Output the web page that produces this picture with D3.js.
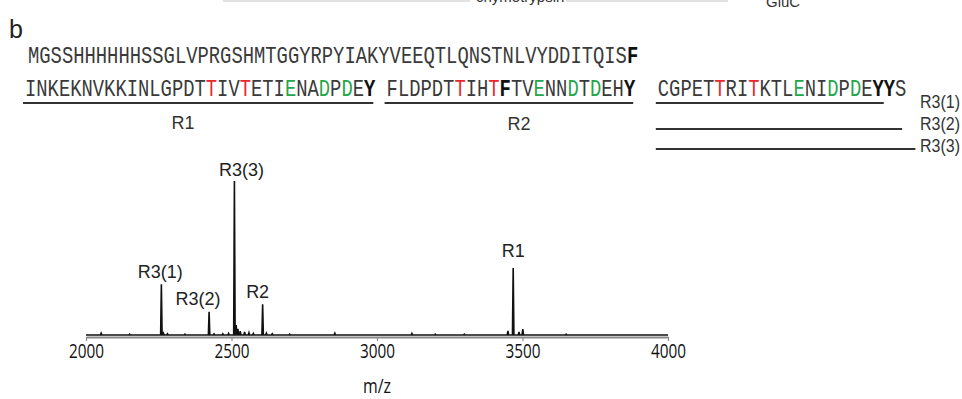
<!DOCTYPE html>
<html>
<head>
<meta charset="utf-8">
<script src="https://cdn.jsdelivr.net/npm/d3@7"></script>
<style>
    body { margin: 0; background: #fff; }
</style>
</head>
<body>
<div id="chart-area"></div>
<script>

// labelled peaks: m/z and relative intensity (%)
var peakNames = ["R3(1)", "R3(2)", "R3(3)", "R2", "R1"]
var peakMz = [2259, 2423, 2510, 2607, 3468]
var peakInt = [33, 15, 100, 20, 43.5]

// small unlabelled peaks along the baseline
var minorMz = [2052, 2150, 2266, 2280, 2340, 2440, 2470, 2490, 2516, 2522, 2530, 2545, 2560, 2575,
               2620, 2640, 2700, 2855, 3120, 3200, 3300, 3450, 3488, 3501, 3650]
var minorInt = [1.2, 0.5, 1.2, 0.8, 0.5, 0.7, 0.8, 1.0, 6.5, 4.0, 2.5, 2.0, 1.5, 1.0,
                1.2, 0.8, 0.5, 1.2, 1.0, 0.5, 0.5, 2.6, 2.0, 3.9, 0.5]

var xTicks = [2000, 2500, 3000, 3500, 4000]

// protein sequence, two rows
var seqLine1 = "MGSSHHHHHHSSGLVPRGSHMTGGYRPYIAKYVEEQTLQNSTNLVYDDITQISF"
var seqLine2 = "INKEKNVKKINLGPDTTIVTETIENADPDEY FLDPDTTIHTFTVENNDTDEHY  CGPETTRITKTLENIDPDEYYS"
var boldLine1 = [53]
var redLine2 = [16, 19, 38, 41, 61, 64]
var greenLine2 = [23, 26, 28, 45, 48, 50, 68, 71, 73]
var boldLine2 = [30, 42, 53, 75, 76]

// peptide regions (residue index range in row 2)
var regionNames = ["R1", "R2", "R3(1)", "R3(2)", "R3(3)"]
var regionStart = [0, 32, 56, 56, 56]
var regionEnd = [30, 53, 75, 76, 77]

var width = 962, height = 399

var svg = d3.select("#chart-area").append("svg")
    .attr("width", width)
    .attr("height", height)
    .style("font-family", "'Liberation Sans', Arial, sans-serif")

// panel letter
svg.append("text")
    .attr("x", 9).attr("y", 38)
    .attr("font-size", 25)
    .attr("fill", "#222")
    .text("b")

// remains of the panel above (cut off at top edge)
var topG = svg.append("g").attr("stroke", "#c4c4c4").attr("stroke-width", 1.2)
topG.append("line").attr("x1", 223).attr("x2", 470).attr("y1", 1).attr("y2", 1)
topG.append("line").attr("x1", 566).attr("x2", 728).attr("y1", 1).attr("y2", 1)
svg.append("text").attr("x", 476).attr("y", 2).attr("font-size", 15).attr("fill", "#333").text("chymotrypsin")
svg.append("text").attr("x", 766).attr("y", 7).attr("font-size", 15).attr("fill", "#333").text("GluC")

// ---- sequence ----
var pitch = 11.3
var sx = 0.785
var seqColor = "#3a3a3a", red = "#e8262b", green = "#22a64a"

function drawSeq(str, x0, yBase, reds, greens, bolds) {
    var xs = d3.scaleLinear().domain([0, str.length]).range([0, str.length * pitch / sx])
    var g = svg.append("g")
        .attr("transform", "translate(" + x0 + "," + yBase + ") scale(" + sx + ",1)")
    var t = g.append("text")
        .attr("font-family", "'Liberation Mono', 'Courier New', monospace")
        .attr("font-size", 24)
    str.split("").forEach(function (c, i) {
        if (c == " ") return
        var fill = seqColor
        if (reds.indexOf(i) >= 0) fill = red
        if (greens.indexOf(i) >= 0) fill = green
        t.append("tspan")
            .attr("x", xs(i))
            .attr("fill", bolds.indexOf(i) >= 0 ? "#111" : fill)
            .attr("font-weight", bolds.indexOf(i) >= 0 ? "bold" : "normal")
            .text(c)
    })
}

drawSeq(seqLine1, 28, 63, [], [], boldLine1)
drawSeq(seqLine2, 25, 96, redLine2, greenLine2, boldLine2)

// underlines for the regions
var xSeq = d3.scaleLinear().domain([0, seqLine2.length]).range([25, 25 + seqLine2.length * pitch])
var rowY = [103, 103, 103, 129, 149]
var tail = [-2, -2, 0, 7, 9]

regionNames.forEach(function (name, i) {
    svg.append("line")
        .attr("x1", xSeq(regionStart[i]) - 2)
        .attr("x2", xSeq(regionEnd[i] + 1) + tail[i])
        .attr("y1", rowY[i]).attr("y2", rowY[i])
        .attr("stroke", "#333")
        .attr("stroke-width", 1.8)
})

svg.append("text").attr("x", 183).attr("y", 129).attr("text-anchor", "middle")
    .attr("font-size", 18).attr("fill", "#333").text(regionNames[0])
svg.append("text").attr("x", 519).attr("y", 130).attr("text-anchor", "middle")
    .attr("font-size", 18).attr("fill", "#333").text(regionNames[1])

var r3LabelY = [108, 130, 151.5]
for (var k = 2; k < 5; k++) {
    svg.append("text")
        .attr("x", 920).attr("y", r3LabelY[k - 2])
        .attr("font-size", 18).attr("fill", "#333")
        .attr("textLength", 40).attr("lengthAdjust", "spacingAndGlyphs")
        .text(regionNames[k])
}

// ---- spectrum ----
var x = d3.scaleLinear().domain([2000, 4000]).range([86, 668])
var y = d3.scaleLinear().domain([0, 100]).range([335, 181])

var peaks = []
peakMz.forEach(function (m, i) { peaks.push([m, peakInt[i]]) })
minorMz.forEach(function (m, i) { peaks.push([m, minorInt[i]]) })
peaks.sort(function (a, b) { return a[0] - b[0] })

var pts = [[2000, 0]]
peaks.forEach(function (p) {
    pts.push([p[0] - 2.5, 0])
    pts.push([p[0], p[1]])
    pts.push([p[0] + 2.5, 0])
})
pts.push([4000, 0])

var line = d3.line()
    .x(function (d) { return x(d[0]) })
    .y(function (d) { return y(d[1]) })

// axis first so the spectrum sits on top
var axis = svg.append("g")
    .attr("transform", "translate(0,337)")
    .call(d3.axisBottom(x).tickValues(xTicks).tickSize(4).tickSizeOuter(0).tickFormat(d3.format("d")))
axis.select(".domain").attr("stroke", "#8a8a8a").attr("stroke-width", 2.2)
axis.selectAll(".tick line").attr("stroke", "#8a8a8a").attr("stroke-width", 1.2)
axis.selectAll(".tick text")
    .attr("y", 21).attr("dy", 0)
    .attr("font-family", "'Open Sans', sans-serif")
    .attr("font-size", 20)
    .attr("fill", "#111")
    .attr("textLength", 35).attr("lengthAdjust", "spacingAndGlyphs")

svg.append("path")
    .datum(pts)
    .attr("d", line)
    .attr("fill", "none")
    .attr("stroke", "#111")
    .attr("stroke-width", 1.6)

svg.append("text")
    .attr("x", 377).attr("y", 393)
    .attr("text-anchor", "middle")
    .attr("font-family", "'Open Sans', sans-serif")
    .attr("font-size", 20).attr("fill", "#111")
    .attr("textLength", 28).attr("lengthAdjust", "spacingAndGlyphs")
    .text("m/z")

// peak labels
var labelDx = [-1, -11, 7, -5, 0]
var labelDy = [6, 7, 5, 6, 11]
peakNames.forEach(function (name, i) {
    svg.append("text")
        .attr("x", x(peakMz[i]) + labelDx[i])
        .attr("y", y(peakInt[i]) - labelDy[i])
        .attr("text-anchor", "middle")
        .attr("font-size", 18)
        .attr("fill", "#222")
        .text(name)
})

</script>
</body>
</html>
